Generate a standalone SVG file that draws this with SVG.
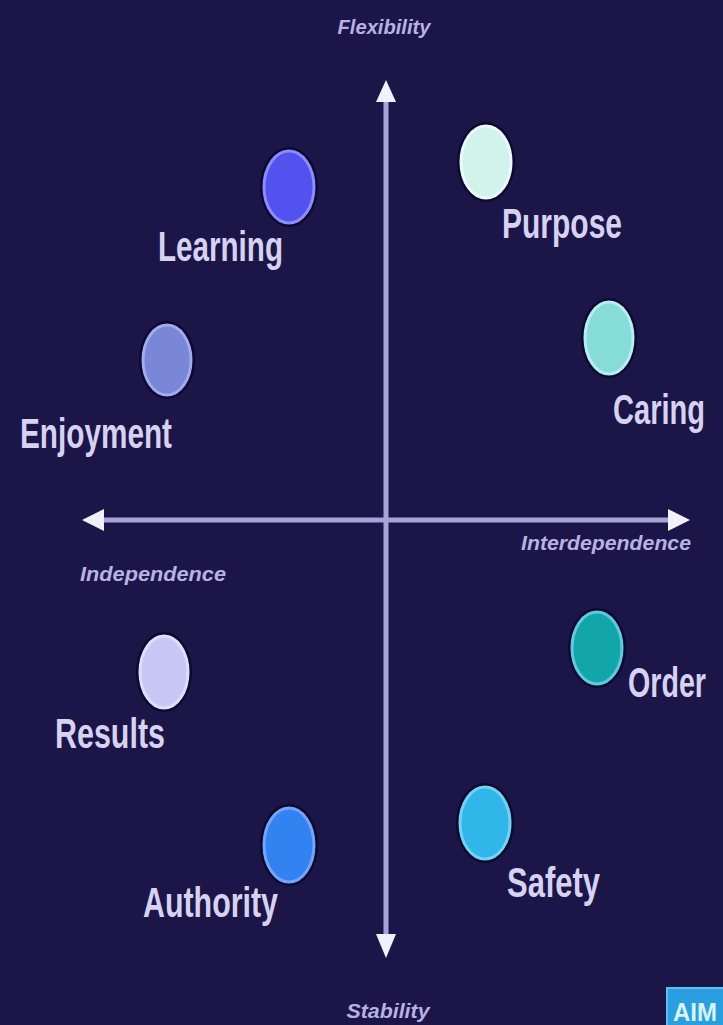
<svg xmlns="http://www.w3.org/2000/svg" width="723" height="1025" viewBox="0 0 723 1025">
<style>
.lbl{font-family:"Liberation Sans",Arial,sans-serif;font-weight:bold;font-size:42px;fill:#d6d2f2}
.lbs{font-family:"Liberation Sans",Arial,sans-serif;font-weight:bold;font-size:30px;fill:#d6d2f2}
.ax{font-family:"Liberation Sans",Arial,sans-serif;font-weight:bold;font-style:italic;font-size:20px;fill:#b8b2e2}
.halo{fill:#0c0a2c}
.dot{stroke-width:3}
.axis{stroke:#a9a2d8;stroke-width:5}
.head{fill:#f2f0ff}
</style>
<rect width="723" height="1025" fill="#1c1548"/>
<g id="connectors">
<line class="axis" x1="386" y1="95" x2="386" y2="935"/>
<line class="axis" x1="100" y1="520" x2="672" y2="520"/>
<polygon class="head" points="386,80 376,102 396,102"/>
<polygon class="head" points="386,958 376,934 396,934"/>
<polygon class="head" points="82,520 104,509 104,531"/>
<polygon class="head" points="690,520 668,509 668,531"/>
</g>
<g id="axis-labels">
<text class="ax" x="384" y="34" text-anchor="middle" textLength="93" lengthAdjust="spacingAndGlyphs">Flexibility</text>
<text class="ax" x="388" y="1018" text-anchor="middle" textLength="83" lengthAdjust="spacingAndGlyphs">Stability</text>
<text class="ax" x="153" y="581" text-anchor="middle" textLength="146" lengthAdjust="spacingAndGlyphs">Independence</text>
<text class="ax" x="606" y="550" text-anchor="middle" textLength="170" lengthAdjust="spacingAndGlyphs">Interdependence</text>
</g>
<g id="node-learning">
<ellipse class="halo" cx="289" cy="187" rx="29" ry="40"/>
<ellipse class="dot" cx="289" cy="187" rx="25" ry="36" fill="#5252ee" stroke="#8a8cff"/>
<text class="lbl" x="158" y="261" textLength="125" lengthAdjust="spacingAndGlyphs">Learning</text>
</g>
<g id="node-enjoyment">
<ellipse class="halo" cx="167" cy="360" rx="28" ry="39"/>
<ellipse class="dot" cx="167" cy="360" rx="24" ry="35" fill="#7a86d6" stroke="#a2aaf2"/>
<text class="lbl" x="20" y="448" textLength="152" lengthAdjust="spacingAndGlyphs">Enjoyment</text>
</g>
<g id="node-purpose">
<ellipse class="halo" cx="486" cy="162" rx="29" ry="40"/>
<ellipse class="dot" cx="486" cy="162" rx="25" ry="36" fill="#d2f2ec" stroke="#eaf8ff"/>
<text class="lbl" x="502" y="238" textLength="120" lengthAdjust="spacingAndGlyphs">Purpose</text>
</g>
<g id="node-caring">
<ellipse class="halo" cx="609" cy="338" rx="28" ry="40"/>
<ellipse class="dot" cx="609" cy="338" rx="24" ry="36" fill="#86dcd6" stroke="#b8ecf6"/>
<text class="lbs" transform="translate(613,424) scale(1,1.4)" textLength="92" lengthAdjust="spacingAndGlyphs">Caring</text>
</g>
<g id="node-order">
<ellipse class="halo" cx="597" cy="648" rx="29" ry="40"/>
<ellipse class="dot" cx="597" cy="648" rx="25" ry="36" fill="#12a6aa" stroke="#62c8e2"/>
<text class="lbs" transform="translate(628,697) scale(1,1.4)" textLength="78" lengthAdjust="spacingAndGlyphs">Order</text>
</g>
<g id="node-results">
<ellipse class="halo" cx="164" cy="672" rx="28" ry="40"/>
<ellipse class="dot" cx="164" cy="672" rx="24" ry="36" fill="#c8c8f4" stroke="#dedeff"/>
<text class="lbl" x="55" y="748" textLength="110" lengthAdjust="spacingAndGlyphs">Results</text>
</g>
<g id="node-authority">
<ellipse class="halo" cx="289" cy="845" rx="29" ry="41"/>
<ellipse class="dot" cx="289" cy="845" rx="25" ry="37" fill="#3282f2" stroke="#72a4fa"/>
<text class="lbl" x="143" y="917" textLength="135" lengthAdjust="spacingAndGlyphs">Authority</text>
</g>
<g id="node-safety">
<ellipse class="halo" cx="485" cy="823" rx="29" ry="40"/>
<ellipse class="dot" cx="485" cy="823" rx="25" ry="36" fill="#30b6e8" stroke="#74d2f4"/>
<text class="lbl" x="507" y="897" textLength="93" lengthAdjust="spacingAndGlyphs">Safety</text>
</g>
<g id="logo">
<rect x="667" y="988" width="60" height="45" fill="#2a9fe0" stroke="#5cc0f0" stroke-width="2"/>
<text x="673" y="1021" font-family="Liberation Sans,Arial,sans-serif" font-weight="bold" font-size="26" fill="#d8f4ff" textLength="44" lengthAdjust="spacingAndGlyphs">AIM</text>
</g>
</svg>
